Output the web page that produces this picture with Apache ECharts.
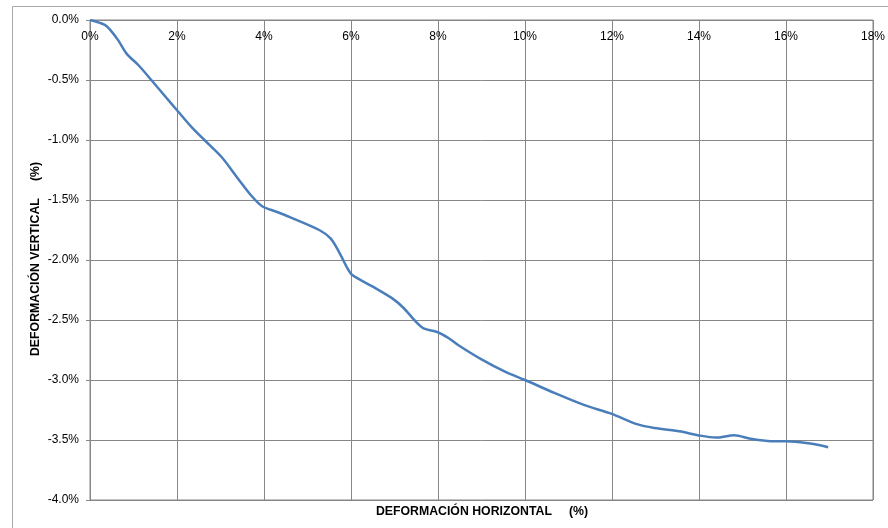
<!DOCTYPE html>
<html>
<head>
<meta charset="utf-8">
<script src="https://cdn.jsdelivr.net/npm/echarts@6/dist/echarts.min.js"></script>
<style>html,body{margin:0;padding:0;background:#fff}#c{width:888px;height:528px}</style>
</head>
<body>
<div id="c"></div>
<script>
// Horizontal deformation (%)
const horiz = [0, 0.34, 0.46, 0.65, 0.84, 1.11, 1.41, 1.76, 2.02, 2.33, 2.63, 3.02, 3.40, 3.70, 3.95, 4.30, 4.58, 5.27, 5.53, 5.72, 5.92, 6.03, 6.49, 6.95, 7.21, 7.48, 7.67, 7.98, 8.24, 8.47, 9.01, 9.54, 10.0, 10.69, 11.37, 11.98, 12.59, 12.98, 13.59, 13.97, 14.39, 14.81, 15.19, 15.65, 15.99, 16.56, 16.97];
// Vertical deformation (%)
const vert = [0, -0.04, -0.08, -0.17, -0.28, -0.375, -0.50, -0.65, -0.76, -0.89, -1.00, -1.14, -1.32, -1.46, -1.55, -1.60, -1.64, -1.75, -1.82, -1.93, -2.07, -2.125, -2.22, -2.32, -2.40, -2.51, -2.57, -2.60, -2.65, -2.71, -2.83, -2.93, -3.00, -3.11, -3.21, -3.28, -3.37, -3.40, -3.43, -3.46, -3.48, -3.46, -3.49, -3.51, -3.51, -3.53, -3.56];
const xTitle = 'DEFORMACIÓN HORIZONTAL     (%)';
const yTitle = 'DEFORMACIÓN VERTICAL     (%)';

const chart = echarts.init(document.getElementById('c'), null, {renderer: 'canvas'});
const font = 'Liberation Sans, Arial, sans-serif';
const gridColor = '#878787';
chart.setOption({
  animation: false,
  backgroundColor: '#fff',
  grid: {left: 90, top: 20, width: 786, height: 480, show: true, borderColor: gridColor, borderWidth: 1},
  graphic: [
    {type: 'rect', shape: {x: 12.5, y: 6.5, width: 1000, height: 1000}, style: {fill: 'none', stroke: '#a8a8a8', lineWidth: 1}, silent: true, z: -10},
    {type: 'text', x: 482, y: 512, style: {text: xTitle, font: 'bold 12.3px ' + font, fill: '#000', textAlign: 'center', textVerticalAlign: 'middle'}},
    {type: 'text', x: 36, y: 259, rotation: Math.PI / 2, style: {text: yTitle, font: 'bold 12.3px ' + font, fill: '#000', textAlign: 'center', textVerticalAlign: 'middle'}}
  ],
  xAxis: {
    type: 'value', position: 'top', min: 0, max: 18, interval: 2,
    axisLine: {show: true, lineStyle: {color: gridColor}},
    axisTick: {show: false},
    axisLabel: {inside: true, margin: 11, color: '#000', fontSize: 12, fontFamily: font, formatter: v => v + '%'},
    splitLine: {show: true, lineStyle: {color: gridColor, width: 1}}
  },
  yAxis: {
    type: 'value', min: -4, max: 0, interval: 0.5,
    axisLine: {show: true, onZero: false, lineStyle: {color: gridColor}},
    axisTick: {show: true, length: 4, lineStyle: {color: gridColor}},
    axisLabel: {margin: 11, color: '#000', fontSize: 12, fontFamily: font, formatter: v => v.toFixed(1) + '%'},
    splitLine: {show: true, lineStyle: {color: gridColor, width: 1}}
  },
  series: [{
    type: 'line', showSymbol: false, smooth: 0.3,
    data: horiz.map((x, i) => [x, vert[i]]),
    lineStyle: {color: '#4a7ebb', width: 2.5}
  }]
});
</script>
</body>
</html>
